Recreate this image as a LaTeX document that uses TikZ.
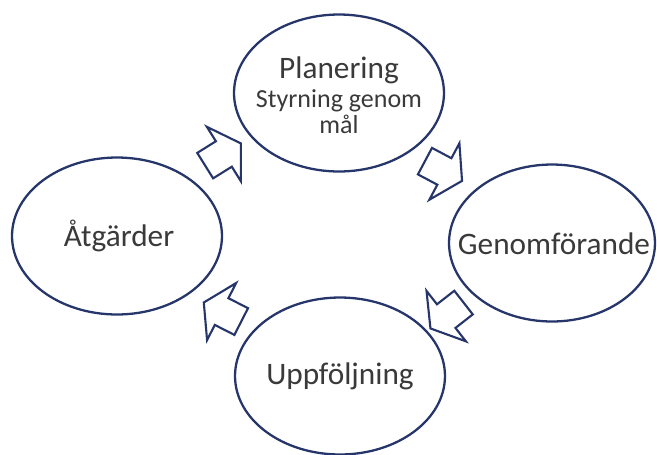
\documentclass[tikz,border=0pt]{standalone}
\usepackage{fontspec}
\setmainfont{Carlito}
\usetikzlibrary{shapes.geometric, calc}

\definecolor{ringblue}{HTML}{26356A}
\definecolor{labelgray}{HTML}{3A3A3A}

\newcommand{\bigtxt}{\fontsize{17.8}{15}\selectfont}
\newcommand{\smalltxt}{\fontsize{14.8}{14}\selectfont}

\begin{document}
\begin{tikzpicture}[
    x=0.02cm, y=-0.02cm,
    ring/.style={ellipse, draw=ringblue, fill=white, line width=1.3pt, inner sep=0pt,
                 minimum width=4.2cm, minimum height=3.14cm},
    steptext/.style={text=labelgray, align=center, inner sep=0pt, font=\bigtxt},
    flowline/.style={draw=ringblue, fill=white, line width=1.2pt, line join=miter},
    flowarrow/.pic={
        \path[flowline] (-21,-15) -- (1,-15) -- (1,-32) -- (21,0) -- (1,32)
            -- (1,15) -- (-21,15) -- cycle;
    },
]
\useasboundingbox (0,0) rectangle (657,454);

% the four steps
\node[ring] (plan) at (339,93) {};
\node[ring, minimum width=4.12cm] (genom) at (552,243) {};
\node[ring] (uppf) at (340,376) {};
\node[ring] (atg) at (117,236) {};

\node[steptext] (plantxt) at ($(plan)+(0,2)$)
    {\bigtxt Planering\\[1.5pt]\smalltxt Styrning genom\\\smalltxt mål};
\node[steptext] (genomtxt) at ($(genom)+(2,1)$) {Genomförande};
\node[steptext] (uppftxt) at (uppf) {Uppföljning};
\node[steptext] (atgtxt) at ($(atg)+(2,0)$) {Åtgärder};

% block arrows between them
\pic[rotate=32] (a1) at ($(atg)!0.5!(plan)+(-5,-10)$) {flowarrow};
\pic[rotate=-28] (a2) at ($(plan)!0.5!(genom)+(-2,3)$) {flowarrow};
\pic[rotate=-142] (a3) at ($(genom)!0.5!(uppf)+(1,6)$) {flowarrow};
\pic[rotate=153] (a4) at ($(uppf)!0.5!(atg)+(-6,6)$) {flowarrow};

\end{tikzpicture}
\end{document}
